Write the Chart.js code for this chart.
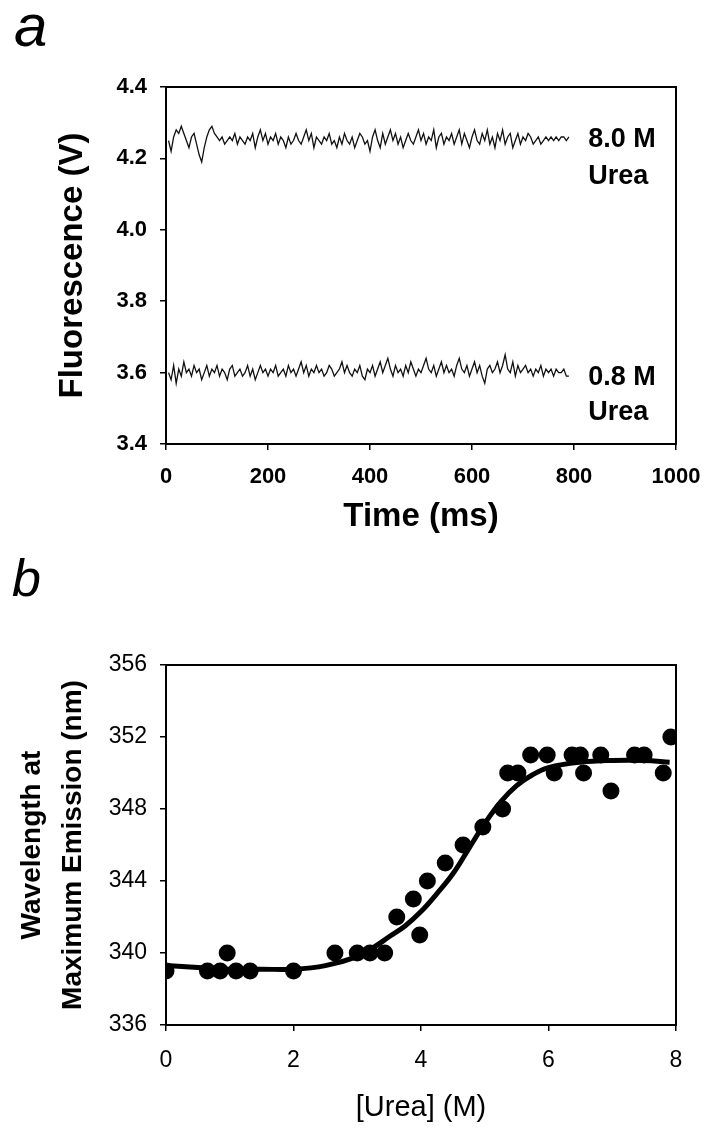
<!DOCTYPE html>
<html>
<head>
<meta charset="utf-8">
<script src="https://cdn.jsdelivr.net/npm/chart.js@4.4.1/dist/chart.umd.min.js"></script>
<style>
  body { margin: 0; background: #fff; }
  #wrap { position: relative; width: 716px; height: 1137px; }
  canvas { position: absolute; left: 0; }
  .panel { position: absolute; font-family: Arial, "Liberation Sans", sans-serif; font-style: italic; color: #000; line-height: 1; }
</style>
</head>
<body>
<div id="wrap">
  <div class="panel" style="left:14px; top:-4px; font-size:60px;">a</div>
  <canvas id="chartA" width="716" height="560" style="top:0"></canvas>
  <div class="panel" style="left:12px; top:552px; font-size:52px;">b</div>
  <canvas id="chartB" width="716" height="577" style="top:560px"></canvas>
</div>
<script>
// --- panel a: fluorescence traces ---
const traceStartMs = 5;
const traceStepMs = 5;
const trace8M = [
  4.25, 4.22, 4.26, 4.28, 4.27, 4.29, 4.27, 4.25, 4.23, 4.26,
  4.27, 4.24, 4.21, 4.19, 4.23, 4.26, 4.28, 4.29, 4.27, 4.26,
  4.25, 4.26, 4.24, 4.25, 4.26, 4.25, 4.27, 4.24, 4.26, 4.25,
  4.24, 4.26, 4.25, 4.27, 4.23, 4.26, 4.28, 4.25, 4.27, 4.24,
  4.26, 4.25, 4.27, 4.24, 4.26, 4.25, 4.23, 4.26, 4.24, 4.25,
  4.27, 4.25, 4.24, 4.26, 4.28, 4.25, 4.27, 4.23, 4.26, 4.25,
  4.24, 4.26, 4.25, 4.27, 4.24, 4.25, 4.23, 4.26, 4.24, 4.27,
  4.25, 4.24, 4.26, 4.23, 4.25, 4.27, 4.26, 4.24, 4.25, 4.22,
  4.26, 4.28, 4.25, 4.23, 4.27, 4.24, 4.26, 4.28, 4.25, 4.27,
  4.24, 4.26, 4.23, 4.25, 4.27, 4.25, 4.24, 4.26, 4.28, 4.25,
  4.27, 4.24, 4.26, 4.25, 4.28, 4.23, 4.26, 4.27, 4.24, 4.26,
  4.25, 4.27, 4.24, 4.26, 4.28, 4.24, 4.27, 4.25, 4.23, 4.26,
  4.28, 4.25, 4.24, 4.27, 4.25, 4.28, 4.24, 4.26, 4.23, 4.27,
  4.25, 4.28, 4.24, 4.26, 4.27, 4.23, 4.25, 4.27, 4.24, 4.26,
  4.25, 4.27, 4.26, 4.24, 4.25, 4.26, 4.24, 4.25, 4.26, 4.25,
  4.26, 4.25, 4.26, 4.25, 4.26, 4.26, 4.25, 4.26
];
const trace08M = [
  3.60, 3.58, 3.62, 3.57, 3.61, 3.59, 3.63, 3.60, 3.61, 3.59,
  3.62, 3.60, 3.61, 3.58, 3.60, 3.62, 3.59, 3.61, 3.60, 3.62,
  3.59, 3.61, 3.60, 3.58, 3.61, 3.62, 3.59, 3.60, 3.61, 3.59,
  3.60, 3.62, 3.59, 3.61, 3.58, 3.60, 3.62, 3.60, 3.61, 3.59,
  3.61, 3.60, 3.62, 3.59, 3.60, 3.61, 3.59, 3.62, 3.60, 3.61,
  3.59, 3.61, 3.63, 3.60, 3.62, 3.59, 3.61, 3.60, 3.62, 3.60,
  3.61, 3.59, 3.60, 3.62, 3.61, 3.59, 3.60, 3.61, 3.63, 3.60,
  3.62, 3.60, 3.59, 3.61, 3.60, 3.62, 3.59, 3.58, 3.61, 3.60,
  3.62, 3.59, 3.61, 3.63, 3.60, 3.62, 3.64, 3.61, 3.59, 3.62,
  3.60, 3.61, 3.59, 3.62, 3.60, 3.63, 3.61, 3.59, 3.61, 3.60,
  3.62, 3.64, 3.61, 3.60, 3.62, 3.59, 3.61, 3.63, 3.60, 3.62,
  3.60, 3.61, 3.59, 3.62, 3.64, 3.61, 3.60, 3.62, 3.59, 3.61,
  3.63, 3.60, 3.62, 3.59, 3.57, 3.61, 3.62, 3.60, 3.61, 3.63,
  3.60, 3.62, 3.65, 3.61, 3.60, 3.63, 3.59, 3.62, 3.60, 3.61,
  3.62, 3.60, 3.61, 3.59, 3.61, 3.60, 3.62, 3.59, 3.61, 3.60,
  3.61, 3.59, 3.61, 3.60, 3.60, 3.61, 3.59, 3.59
];
// text labels beside each trace: [x ms, y V, text]
const traceLabels = [
  [828, 4.254, "8.0 M"], [828, 4.150, "Urea"],
  [828, 3.585, "0.8 M"], [828, 3.487, "Urea"]
];
const timeTicks = [0, 200, 400, 600, 800, 1000];
const fluorTicks = [3.4, 3.6, 3.8, 4.0, 4.2, 4.4];

// --- panel b: emission maximum vs urea ---
const ureaM = [0, 0.65, 0.85, 0.96, 1.1, 1.32, 2.0, 2.65, 3.0, 3.2, 3.43,
  3.62, 3.88, 3.98, 4.1, 4.38, 4.66, 4.97, 5.28, 5.36, 5.52, 5.72, 5.98, 6.09,
  6.37, 6.5, 6.55, 6.82, 6.98, 7.35, 7.5, 7.8, 7.92];
const lambdaNm = [339, 339, 339, 340, 339, 339, 339, 340, 340, 340, 340,
  342, 343, 341, 344, 345, 346, 347, 348, 350, 350, 351, 351, 350,
  351, 351, 350, 351, 349, 351, 351, 350, 352];
const fitUrea = [0, 0.5, 1, 1.5, 2, 2.5, 3, 3.25, 3.5, 3.75, 4, 4.25, 4.5,
  4.75, 5, 5.25, 5.5, 5.75, 6, 6.5, 7, 7.5, 7.9];
const fitNm = [339.3, 339.2, 339.1, 339.1, 339.1, 339.3, 339.8, 340.3, 340.9,
  341.5, 342.3, 343.3, 344.4, 345.8, 347.2, 348.4, 349.3, 349.9, 350.3, 350.6,
  350.7, 350.7, 350.6];
const ureaTicks = [0, 2, 4, 6, 8];
const lambdaTicks = [336, 340, 344, 348, 352, 356];

const FONT = "Arial, 'Liberation Sans', sans-serif";

// frame round the plot area (top and right sides too)
const boxPlugin = {
  id: "box",
  afterDraw(chart) {
    const a = chart.chartArea, ctx = chart.ctx;
    ctx.save();
    ctx.strokeStyle = "#000";
    ctx.lineWidth = 2;
    ctx.strokeRect(a.left, a.top, a.right - a.left, a.bottom - a.top);
    ctx.restore();
  }
};

// labels next to the traces
const traceLabelPlugin = {
  id: "traceLabels",
  afterDatasetsDraw(chart) {
    const ctx = chart.ctx, xs = chart.scales.x, ys = chart.scales.y;
    ctx.save();
    ctx.fillStyle = "#000";
    ctx.font = "bold 27px " + FONT;
    ctx.textAlign = "left";
    ctx.textBaseline = "middle";
    traceLabels.forEach(l => {
      ctx.fillText(l[2], xs.getPixelForValue(l[0]), ys.getPixelForValue(l[1]));
    });
    ctx.restore();
  }
};

function fixedTicks(values) {
  return function (scale) {
    scale.ticks = values.map(v => ({ value: v }));
  };
}

function toPoints(values) {
  return values.map((v, i) => ({ x: traceStartMs + i * traceStepMs, y: v }));
}

new Chart(document.getElementById("chartA"), {
  type: "line",
  data: {
    datasets: [
      { data: toPoints(trace8M), borderColor: "#111", borderWidth: 1.3, pointRadius: 0, tension: 0 },
      { data: toPoints(trace08M), borderColor: "#111", borderWidth: 1.3, pointRadius: 0, tension: 0 }
    ]
  },
  options: {
    responsive: false,
    animation: false,
    devicePixelRatio: 1,
    layout: { padding: { top: 87, right: 40, bottom: 0, left: 0 } },
    plugins: { legend: { display: false }, tooltip: { enabled: false } },
    scales: {
      x: {
        type: "linear", min: 0, max: 1000,
        afterBuildTicks: fixedTicks(timeTicks),
        afterFit(s) { s.height = 116; },
        grid: { drawOnChartArea: false, drawTicks: true, tickLength: 6, color: "#000", lineWidth: 1.5 },
        border: { display: true, color: "#000", width: 2 },
        ticks: { color: "#000", padding: 14, maxRotation: 0, font: { family: FONT, size: 22, weight: "bold" },
          callback: v => String(v) },
        title: { display: true, text: "Time (ms)", color: "#000", padding: { top: 0, bottom: 23 },
          font: { family: FONT, size: 33, weight: "bold" } }
      },
      y: {
        type: "linear", min: 3.4, max: 4.4,
        afterBuildTicks: fixedTicks(fluorTicks),
        afterFit(s) { s.width = 166; },
        grid: { drawOnChartArea: false, drawTicks: true, tickLength: 6, color: "#000", lineWidth: 1.5 },
        border: { display: true, color: "#000", width: 2 },
        ticks: { color: "#000", padding: 13, font: { family: FONT, size: 22, weight: "bold" },
          callback: v => v.toFixed(1) },
        title: { display: true, text: "Fluorescence (V)", color: "#000", padding: { top: 53, bottom: 0 },
          font: { family: FONT, size: 33, weight: "bold" } }
      }
    }
  },
  plugins: [boxPlugin, traceLabelPlugin]
});

new Chart(document.getElementById("chartB"), {
  type: "scatter",
  data: {
    datasets: [
      { type: "line", data: fitUrea.map((x, i) => ({ x: x, y: fitNm[i] })), borderColor: "#000",
        borderWidth: 5, pointRadius: 0, tension: 0.4, order: 2 },
      { data: ureaM.map((x, i) => ({ x: x, y: lambdaNm[i] })), backgroundColor: "#000",
        borderColor: "#000", pointRadius: 8.5, borderWidth: 0, order: 1 }
    ]
  },
  options: {
    responsive: false,
    animation: false,
    devicePixelRatio: 1,
    layout: { padding: { top: 105, right: 40, bottom: 0, left: 0 } },
    plugins: { legend: { display: false }, tooltip: { enabled: false } },
    scales: {
      x: {
        type: "linear", min: 0, max: 8,
        afterBuildTicks: fixedTicks(ureaTicks),
        afterFit(s) { s.height = 112; },
        grid: { drawOnChartArea: false, drawTicks: true, tickLength: 6, color: "#000", lineWidth: 1.5 },
        border: { display: true, color: "#000", width: 2 },
        ticks: { color: "#000", padding: 16, maxRotation: 0, font: { family: FONT, size: 23 } },
        title: { display: true, text: "[Urea] (M)", color: "#000", padding: { top: 0, bottom: 12 },
          font: { family: FONT, size: 29 } }
      },
      y: {
        type: "linear", min: 336, max: 356,
        afterBuildTicks: fixedTicks(lambdaTicks),
        afterFit(s) { s.width = 166; },
        grid: { drawOnChartArea: false, drawTicks: true, tickLength: 6, color: "#000", lineWidth: 1.5 },
        border: { display: true, color: "#000", width: 2 },
        ticks: { color: "#000", padding: 13, font: { family: FONT, size: 23 } },
        title: { display: true, text: ["Wavelength at", "Maximum Emission (nm)"], color: "#000",
          padding: { top: 12, bottom: 0 },
          font: { family: FONT, size: 28, weight: "bold", lineHeight: 1.46 } }
      }
    }
  },
  plugins: [boxPlugin]
});
</script>
</body>
</html>
